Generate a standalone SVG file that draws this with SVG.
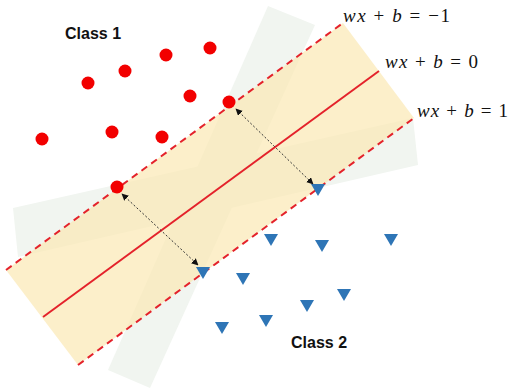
<svg xmlns="http://www.w3.org/2000/svg" width="510" height="391" viewBox="0 0 510 391">
  <style>
    .pale { fill: #f1f5f0; }
    .band { fill: #fbe9b6; fill-opacity: 0.72; }
    .dash { stroke: #e4222b; stroke-width: 2; stroke-dasharray: 7 5; fill: none; }
    .solid { stroke: #e4222b; stroke-width: 2; fill: none; }
    .c1 { fill: #f20000; }
    .c2 { fill: #2e75b6; }
    .gap { stroke: #333; stroke-width: 1; stroke-dasharray: 2 2; fill: none; marker-start: url(#ah); marker-end: url(#ah); }
    .cls { font-family: "Liberation Sans", Arial, sans-serif; font-weight: bold; font-size: 16px; fill: #111; }
    .eq { font-family: "Liberation Serif", "DejaVu Serif", serif; font-size: 19px; fill: #111; }
    .it { font-style: italic; }
  </style>
  <defs>
    <marker id="ah" viewBox="0 0 10 10" refX="9" refY="5" markerWidth="7" markerHeight="7" markerUnits="userSpaceOnUse" orient="auto-start-reverse">
      <path d="M0,0 L10,5 L0,10 z" fill="#111"/>
    </marker>
  </defs>

  <g id="background">
    <polygon class="pale" points="268,6 315,25 150,388 108,370"/>
    <polygon class="pale" points="13,208 413,118 418,165 18,257"/>
    <polygon class="band" points="6,270 343,23 414,118 78,365"/>
  </g>

  <g id="hyperplanes">
    <line class="dash" x1="6" y1="270" x2="343" y2="23"/>
    <line class="solid" x1="43" y1="317" x2="379" y2="71"/>
    <line class="dash" x1="78" y1="365" x2="414" y2="118"/>
  </g>

  <g id="class1-points">
    <circle class="c1" cx="88" cy="83" r="6.5"/>
    <circle class="c1" cx="125" cy="71" r="6.5"/>
    <circle class="c1" cx="166" cy="55" r="6.5"/>
    <circle class="c1" cx="210" cy="48" r="6.5"/>
    <circle class="c1" cx="190" cy="96" r="6.5"/>
    <circle class="c1" cx="229" cy="102" r="6.5"/>
    <circle class="c1" cx="42" cy="139" r="6.5"/>
    <circle class="c1" cx="112" cy="132" r="6.5"/>
    <circle class="c1" cx="162" cy="137" r="6.5"/>
    <circle class="c1" cx="117" cy="187" r="6.5"/>
  </g>

  <g id="class2-points">
    <polygon class="c2" points="264,234 278,234 271,246"/>
    <polygon class="c2" points="315,240 329,240 322,252"/>
    <polygon class="c2" points="384,234 398,234 391,246"/>
    <polygon class="c2" points="337,289 351,289 344,301"/>
    <polygon class="c2" points="300,300 314,300 307,312"/>
    <polygon class="c2" points="259,315 273,315 266,327"/>
    <polygon class="c2" points="196,267 210,267 203,279"/>
    <polygon class="c2" points="236,273 250,273 243,285"/>
    <polygon class="c2" points="215,322 229,322 222,334"/>
    <polygon class="c2" points="311,184 325,184 318,196"/>
  </g>

  <g id="connectors">
    <line class="gap" x1="236" y1="109" x2="313" y2="184"/>
    <line class="gap" x1="122" y1="194" x2="198" y2="265"/>
  </g>

  <g id="labels">
    <text class="cls" x="65" y="39">Class 1</text>
    <text class="cls" x="291" y="348">Class 2</text>
    <text class="eq" x="343" y="22" textLength="107" lengthAdjust="spacing"><tspan class="it">wx</tspan> + <tspan class="it">b</tspan> = −1</text>
    <text class="eq" x="385" y="68" textLength="93" lengthAdjust="spacing"><tspan class="it">wx</tspan> + <tspan class="it">b</tspan> = 0</text>
    <text class="eq" x="417" y="117" textLength="91" lengthAdjust="spacing"><tspan class="it">wx</tspan> + <tspan class="it">b</tspan> = 1</text>
  </g>
</svg>
